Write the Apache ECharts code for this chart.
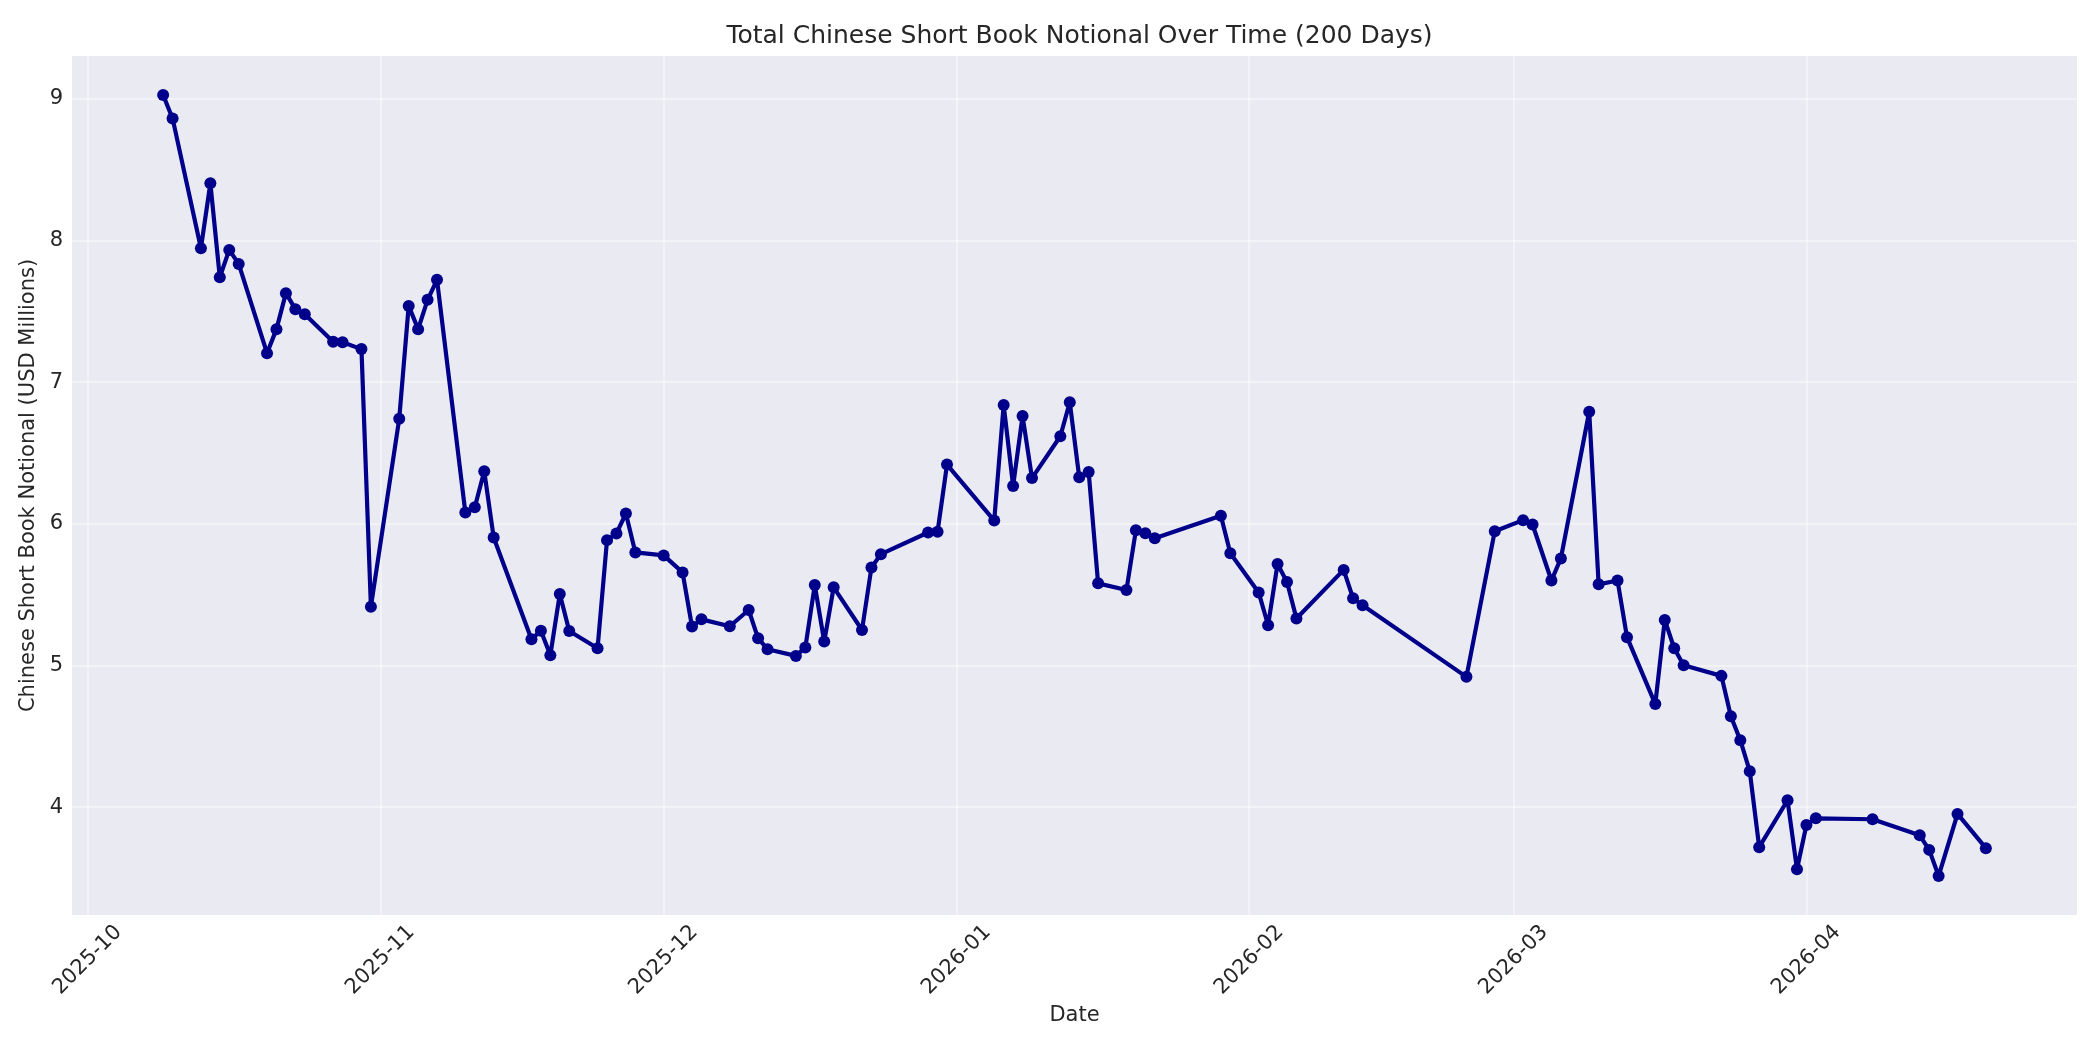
<!DOCTYPE html>
<html>
<head>
<meta charset="utf-8">
<script src="https://cdn.jsdelivr.net/npm/echarts@6/dist/echarts.min.js"></script>
<style>
  html, body { margin: 0; padding: 0; background: #ffffff; }
  #chart { width: 2100px; height: 1050px; }
</style>
</head>
<body>
<div id="chart"></div>
<script>
// ---- Data ----
const dates = [
  '2025-10-09','2025-10-10','2025-10-13','2025-10-14','2025-10-15','2025-10-16','2025-10-17',
  '2025-10-20','2025-10-21','2025-10-22','2025-10-23','2025-10-24','2025-10-27','2025-10-28',
  '2025-10-30','2025-10-31','2025-11-03','2025-11-04','2025-11-05','2025-11-06','2025-11-07',
  '2025-11-10','2025-11-11','2025-11-12','2025-11-13','2025-11-17','2025-11-18','2025-11-19',
  '2025-11-20','2025-11-21','2025-11-24','2025-11-25','2025-11-26','2025-11-27','2025-11-28',
  '2025-12-01','2025-12-03','2025-12-04','2025-12-05','2025-12-08','2025-12-10','2025-12-11',
  '2025-12-12','2025-12-15','2025-12-16','2025-12-17','2025-12-18','2025-12-19','2025-12-22',
  '2025-12-23','2025-12-24','2025-12-29','2025-12-30','2025-12-31','2026-01-05','2026-01-06',
  '2026-01-07','2026-01-08','2026-01-09','2026-01-12','2026-01-13','2026-01-14','2026-01-15',
  '2026-01-16','2026-01-19','2026-01-20','2026-01-21','2026-01-22','2026-01-29','2026-01-30',
  '2026-02-02','2026-02-03','2026-02-04','2026-02-05','2026-02-06','2026-02-11','2026-02-12',
  '2026-02-13','2026-02-24','2026-02-27','2026-03-02','2026-03-03','2026-03-05','2026-03-06',
  '2026-03-09','2026-03-10','2026-03-12','2026-03-13','2026-03-16','2026-03-17','2026-03-18',
  '2026-03-19','2026-03-23','2026-03-24','2026-03-25','2026-03-26','2026-03-27','2026-03-30',
  '2026-03-31','2026-04-01','2026-04-02','2026-04-08','2026-04-13','2026-04-14','2026-04-15',
  '2026-04-17','2026-04-20'
];
const notional = [
  9.026, 8.861, 7.945, 8.403, 7.740, 7.933, 7.834,
  7.204, 7.374, 7.628, 7.515, 7.479, 7.285, 7.282,
  7.233, 5.415, 6.742, 7.538, 7.374, 7.581, 7.722,
  6.080, 6.117, 6.371, 5.904, 5.185, 5.246, 5.073,
  5.505, 5.244, 5.122, 5.885, 5.932, 6.073, 5.798,
  5.777, 5.657, 5.275, 5.326, 5.277, 5.392, 5.192,
  5.115, 5.068, 5.127, 5.568, 5.169, 5.552, 5.251,
  5.692, 5.786, 5.939, 5.944, 6.418, 6.023, 6.839,
  6.267, 6.761, 6.323, 6.618, 6.858, 6.328, 6.365,
  5.580, 5.533, 5.955, 5.934, 5.899, 6.057, 5.792,
  5.516, 5.284, 5.717, 5.590, 5.332, 5.675, 5.474,
  5.425, 4.920, 5.948, 6.026, 5.995, 5.600, 5.756,
  6.791, 5.573, 5.600, 5.200, 4.728, 5.322, 5.122,
  5.002, 4.927, 4.642, 4.473, 4.254, 3.718, 4.049,
  3.562, 3.875, 3.922, 3.915, 3.802, 3.699, 3.515,
  3.953, 3.711
];
const xTickLabels = ['2025-10','2025-11','2025-12','2026-01','2026-02','2026-03','2026-04'];
const yTickValues = [4, 5, 6, 7, 8, 9];

// ---- Build ----
const ts = dates.map(d => Date.parse(d + 'T00:00:00Z'));
const seriesData = ts.map((t, i) => [t, notional[i]]);
const xTicks = xTickLabels.map(m => Date.parse(m + '-01T00:00:00Z'));

const tMin = Math.min(...ts), tMax = Math.max(...ts);
const tPad = (tMax - tMin) * 0.05;
const vMin = Math.min(...notional), vMax = Math.max(...notional);
const vPad = (vMax - vMin) * 0.05;

const W = 2100;
const gridL = 72, gridR = 23, gridT = 56, gridB = 135;
const textColor = '#262626';
const font = 'DejaVu Sans';

function fmtMonth(v) {
  const d = new Date(v);
  const m = d.getUTCMonth() + 1;
  return d.getUTCFullYear() + '-' + (m < 10 ? '0' + m : m);
}

const chart = echarts.init(document.getElementById('chart'), null, { renderer: 'canvas' });
chart.setOption({
  animation: false,
  backgroundColor: '#ffffff',
  title: {
    text: 'Total Chinese Short Book Notional Over Time (200 Days)',
    left: gridL + (W - gridL - gridR) / 2,
    textAlign: 'center',
    top: 19,
    textStyle: { fontFamily: font, fontSize: 25, fontWeight: 'normal', color: textColor }
  },
  grid: {
    left: gridL, right: gridR, top: gridT, bottom: gridB,
    show: true, backgroundColor: '#EAEAF2', borderWidth: 0,
    containLabel: false
  },
  xAxis: {
    type: 'value',
    scale: true,
    min: tMin - tPad,
    max: tMax + tPad,
    name: 'Date',
    nameLocation: 'middle',
    nameGap: 88,
    nameTextStyle: { fontFamily: font, fontSize: 21, color: textColor },
    axisLine: { show: false },
    axisTick: { show: false, customValues: xTicks },
    axisLabel: {
      customValues: xTicks,
      formatter: fmtMonth,
      rotate: 45,
      align: 'center',
      verticalAlign: 'middle',
      margin: 45,
      fontFamily: font, fontSize: 21, color: textColor,
      hideOverlap: false,
      showMinLabel: true,
      showMaxLabel: true
    },
    splitLine: { show: true, lineStyle: { color: 'rgba(255,255,255,0.4)', width: 2 } }
  },
  yAxis: {
    type: 'value',
    min: vMin - vPad,
    max: vMax + vPad,
    name: 'Chinese Short Book Notional (USD Millions)',
    nameLocation: 'middle',
    nameGap: 32,
    nameTextStyle: { fontFamily: font, fontSize: 21, color: textColor },
    axisLine: { show: false },
    axisTick: { show: false, customValues: yTickValues },
    axisLabel: {
      customValues: yTickValues,
      margin: 9,
      fontFamily: font, fontSize: 21, color: textColor
    },
    splitLine: { show: true, lineStyle: { color: 'rgba(255,255,255,0.4)', width: 2 } }
  },
  series: [{
    type: 'line',
    data: seriesData,
    symbol: 'circle',
    symbolSize: 12,
    showSymbol: true,
    showAllSymbol: true,
    lineStyle: { color: '#00008B', width: 4.2 },
    itemStyle: { color: '#00008B' },
    emphasis: { disabled: true }
  }]
});
</script>
</body>
</html>
